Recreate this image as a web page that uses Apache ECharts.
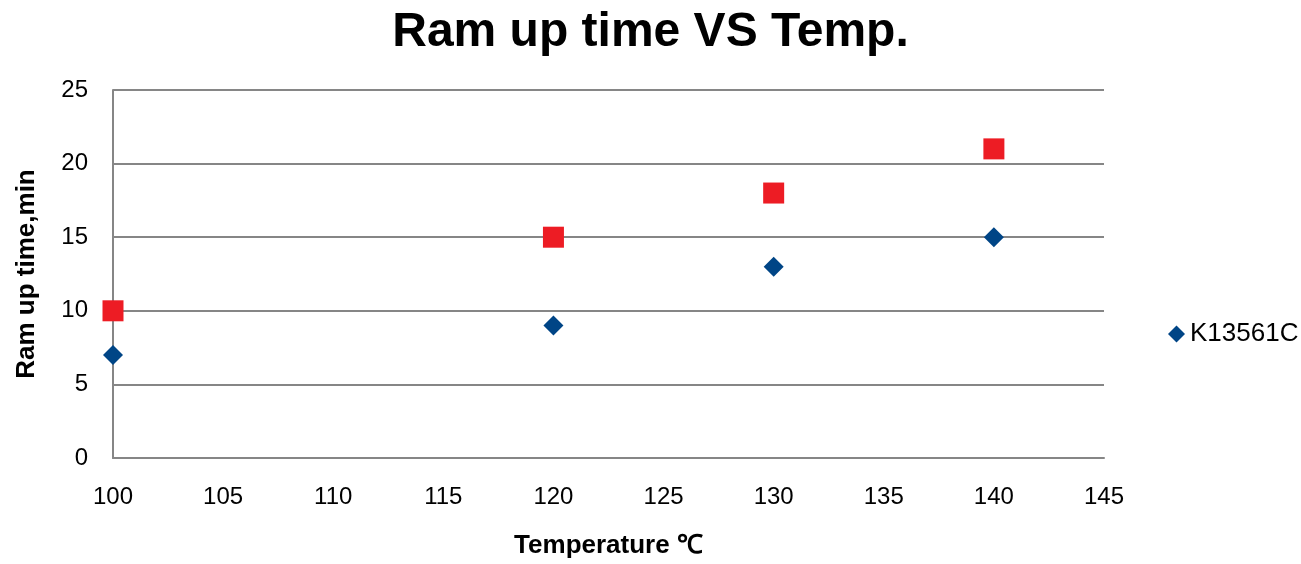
<!DOCTYPE html>
<html>
<head>
<meta charset="utf-8">
<script src="https://cdn.jsdelivr.net/npm/echarts@6/dist/echarts.min.js"></script>
<style>
  html, body { margin: 0; padding: 0; background: #ffffff; }
  #chart { width: 1301px; height: 564px; }
</style>
</head>
<body>
<div id="chart"></div>
<script>
// Temperatures (°C) and ramp-up times (min)
const temps = [100, 120, 130, 140];
const k13561c = [7, 9, 13, 15];
const secondSeries = [10, 15, 18, 21];
const xTicks = [100, 105, 110, 115, 120, 125, 130, 135, 140, 145];
const yTicks = [0, 5, 10, 15, 20, 25];

const font = 'Liberation Sans, Arial, sans-serif';
const chart = echarts.init(document.getElementById('chart'));

chart.setOption({
  animation: false,
  backgroundColor: '#ffffff',
  title: {
    text: 'Ram up time VS Temp.',
    left: 'center',
    top: 4,
    textStyle: { fontFamily: font, fontSize: 48, fontWeight: 'bold', color: '#000' }
  },
  legend: {
    data: ['K13561C'],
    left: 1163,
    top: 316,
    icon: 'diamond',
    itemWidth: 17,
    itemHeight: 17,
    itemGap: 4,
    textStyle: { fontFamily: font, fontSize: 26, color: '#000' }
  },
  grid: { left: 113, right: 197, top: 90, bottom: 106, containLabel: false },
  xAxis: {
    type: 'value',
    min: xTicks[0],
    max: xTicks[xTicks.length - 1],
    interval: xTicks[1] - xTicks[0],
    name: 'Temperature ℃',
    nameLocation: 'middle',
    nameGap: 75,
    nameTextStyle: { fontFamily: font, fontSize: 26, fontWeight: 'bold', color: '#000' },
    axisLine: { show: true, lineStyle: { color: '#868686', width: 2 } },
    axisTick: { show: false },
    splitLine: { show: false },
    axisLabel: { fontFamily: font, fontSize: 24, color: '#000', margin: 27 }
  },
  yAxis: {
    type: 'value',
    min: yTicks[0],
    max: yTicks[yTicks.length - 1],
    interval: yTicks[1] - yTicks[0],
    name: 'Ram up time,min',
    nameLocation: 'middle',
    nameGap: 73,
    nameTextStyle: { fontFamily: font, fontSize: 26, fontWeight: 'bold', color: '#000' },
    axisLine: { show: true, lineStyle: { color: '#868686', width: 2 } },
    axisTick: { show: false },
    splitLine: { show: true, lineStyle: { color: '#868686', width: 2 } },
    axisLabel: { fontFamily: font, fontSize: 24, color: '#000', margin: 25 }
  },
  series: [
    {
      name: 'K13561C',
      type: 'scatter',
      symbol: 'diamond',
      symbolSize: 20,
      itemStyle: { color: '#004586', opacity: 1 },
      data: temps.map((t, i) => [t, k13561c[i]]),
      z: 3
    },
    {
      name: 'Series 2',
      type: 'scatter',
      symbol: 'rect',
      symbolSize: 21,
      itemStyle: { color: '#ed1c24', opacity: 1 },
      data: temps.map((t, i) => [t, secondSeries[i]]),
      z: 3
    }
  ]
});
</script>
</body>
</html>
